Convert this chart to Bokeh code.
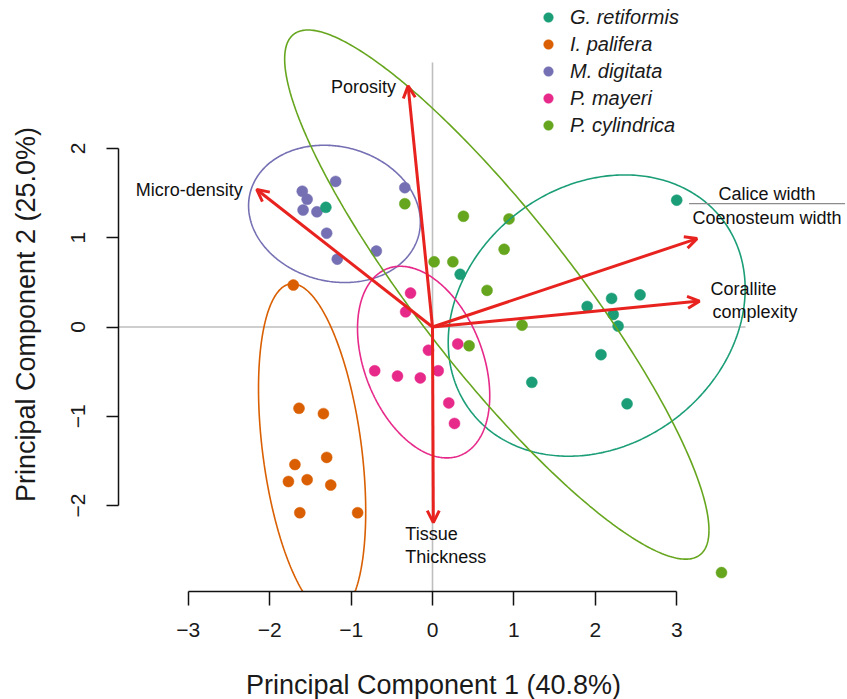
import numpy as np
from bokeh.plotting import figure
from bokeh.models import (ColumnDataSource, Range1d, Arrow, OpenHead, Legend,
                          LegendItem, FixedTicker, Label)
from bokeh.core.properties import value
from bokeh.embed import file_html
from bokeh.resources import INLINE

FONT = "Liberation Sans"

# ---------------- data ----------------
species = ["G. retiformis", "I. palifera", "M. digitata", "P. mayeri", "P. cylindrica"]
colors = ["#1B9E77", "#D95F02", "#7570B3", "#E7298A", "#66A61E"]

gr_x = [3.00, 0.34, 1.90, 2.20, 2.55, 2.22, 2.28, 1.22, 2.07, 2.39]
gr_y = [1.42, 0.59, 0.23, 0.32, 0.36, 0.14, 0.01, -0.62, -0.31, -0.86]
gr_extra_x = [-1.31]          # G. retiformis sample lying among M. digitata
gr_extra_y = [1.34]

ip_x = [-1.71, -1.64, -1.34, -1.69, -1.30, -1.77, -1.54, -1.25, -1.63, -0.92]
ip_y = [0.47, -0.91, -0.97, -1.54, -1.46, -1.73, -1.71, -1.77, -2.08, -2.08]

md_x = [-1.60, -1.54, -1.59, -1.42, -1.19, -0.34, -1.30, -0.69, -1.17]
md_y = [1.52, 1.43, 1.31, 1.29, 1.63, 1.56, 1.05, 0.85, 0.76]

pm_x = [-0.27, -0.33, 0.31, -0.05, -0.71, -0.43, -0.15, 0.07, 0.20, 0.27]
pm_y = [0.38, 0.17, -0.19, -0.26, -0.49, -0.55, -0.57, -0.49, -0.85, -1.08]

pc_x = [-0.34, 0.38, 0.94, 0.88, 0.02, 0.25, 0.67, 1.10, 0.45, 3.55]
pc_y = [1.38, 1.24, 1.21, 0.87, 0.73, 0.73, 0.41, 0.02, -0.21, -2.75]

group_x = [gr_x, ip_x, md_x, pm_x, pc_x]
group_y = [gr_y, ip_y, md_y, pm_y, pc_y]

variables = ["Porosity", "Micro-density", "Calice width / Coenosteum width",
             "Corallite complexity", "Tissue Thickness"]
load_x = [-0.30, -2.16, 3.25, 3.28, 0.01]
load_y = [2.70, 1.54, 0.99, 0.29, -2.19]

x_ticks = [-3, -2, -1, 0, 1, 2, 3]
y_ticks = [-2, -1, 0, 1, 2]
x_title = "Principal Component 1 (40.8%)"
y_title = "Principal Component 2 (25.0%)"

# ---------------- layout ----------------
W, H = 847, 699
X0, X1 = -5.307, 5.098          # whole canvas in data units
Y0, Y1 = -4.171, 3.656
USR_X = (-3.857, 3.845)         # R plot region (axes sit on its edges)
USR_Y = (-2.962, 2.962)
px_x = W / (X1 - X0)
px_y = H / (Y1 - Y0)

p = figure(width=W, height=H, x_range=Range1d(X0, X1), y_range=Range1d(Y0, Y1),
           output_backend="svg", toolbar_location=None,
           min_border_left=0, min_border_right=0, min_border_top=0,
           min_border_bottom=0)
p.xgrid.visible = False
p.ygrid.visible = False
p.outline_line_color = None
p.background_fill_color = "white"
p.border_fill_color = "white"

for ax, ticks in ((p.xaxis[0], x_ticks), (p.yaxis[0], y_ticks)):
    ax.ticker = FixedTicker(ticks=ticks)
    ax.bounds = (ticks[0], ticks[-1])
    ax.major_label_overrides = {t: (str(t).replace("-", "\u2212")) for t in ticks}
    ax.minor_tick_line_color = None
    ax.major_tick_in = 0
    ax.axis_line_width = 1.5
    ax.major_tick_line_width = 1.5
    ax.axis_line_color = "#111111"
    ax.major_tick_line_color = "#111111"
    ax.major_label_text_font = FONT
    ax.major_label_text_font_size = "21px"
    ax.major_label_text_color = "#1a1a1a"

xa, ya = p.xaxis[0], p.yaxis[0]
xa.fixed_location = USR_Y[0]
xa.major_tick_out = 14
xa.major_label_standoff = 17
ya.fixed_location = USR_X[0]
ya.major_tick_out = 12
ya.major_label_orientation = "parallel"
ya.major_label_standoff = 22

# axis titles
p.add_layout(Label(x=433, y=H - 684, x_units="screen", y_units="screen", text=x_title,
                   text_align="center", text_baseline="middle",
                   text_font=FONT, text_font_size="27px", text_color="#1a1a1a"))
p.add_layout(Label(x=25, y=H - 314, x_units="screen", y_units="screen", text=y_title,
                   angle=np.pi / 2, text_align="center", text_baseline="middle",
                   text_font=FONT, text_font_size="27px", text_color="#1a1a1a"))

# reference lines at 0 inside the plot region
p.segment(x0=[USR_X[0], 0], y0=[0, USR_Y[0]], x1=[USR_X[1], 0], y1=[0, USR_Y[1]],
          line_color="#BEBEBE", line_width=1.6)

# points
renderers = []
for gx, gy, col in zip(group_x, group_y, colors):
    r = p.scatter(gx, gy, size=11, fill_color=col, line_color=col, line_width=0.5)
    renderers.append(r)
p.scatter(gr_extra_x, gr_extra_y, size=11, fill_color=colors[0], line_color=colors[0],
          line_width=0.5)

# 95% normal data ellipses (cut at the bottom axis, as in the original)
R95 = np.sqrt(5.991)
t = np.linspace(0, 2 * np.pi, 400)
for gx, gy, col in zip(group_x, group_y, colors):
    x = np.array(gx); y = np.array(gy)
    c = np.cov(x, y)
    sx, sy = np.sqrt(c[0, 0]), np.sqrt(c[1, 1])
    rho = c[0, 1] / (sx * sy)
    ex = x.mean() + R95 * sx * np.cos(t)
    ey = y.mean() + R95 * sy * (rho * np.cos(t) + np.sqrt(1 - rho ** 2) * np.sin(t))
    below = ey < USR_Y[0]
    if below.any():
        ey = np.clip(ey, USR_Y[0], None)
        # roll so that the gap under the axis is at the ends of the line
        k = int(np.argmax(below))
        idx = np.roll(np.arange(len(t)), -k)
        ex, ey, below = ex[idx], ey[idx], below[idx]
        keep = ~below
        first, last = np.argmax(keep), len(keep) - 1 - np.argmax(keep[::-1])
        ex, ey = ex[first - 1:last + 2], ey[first - 1:last + 2]
    p.line(ex, ey, line_color=col, line_width=1.6)

# loading arrows
RED = "#E8231F"
asrc = ColumnDataSource(dict(x0=[0] * len(load_x), y0=[0] * len(load_y),
                             x1=load_x, y1=load_y))
p.add_layout(Arrow(source=asrc, x_start="x0", y_start="y0", x_end="x1", y_end="y1",
                   line_color=RED, line_width=3,
                   end=OpenHead(size=12, line_color=RED, line_width=3)))

# arrow labels (anchored at tips, offset in pixels)
lab_specs = [
    (0, "Porosity", -12, 1, "right"),
    (1, "Micro-density", -14, 1, "right"),
    (2, "Calice width", 70, -45, "center"),
    (2, "Coenosteum width", 70, -21, "center"),
    (3, "Corallite", 11, -12, "left"),
    (3, "complexity", 13, 11, "left"),
    (4, "Tissue", -28, 11, "left"),
    (4, "Thickness", -28, 34, "left"),
]
for align in ("left", "right", "center"):
    rows = [s for s in lab_specs if s[4] == align]
    src = ColumnDataSource(dict(x=[load_x[s[0]] for s in rows],
                                y=[load_y[s[0]] for s in rows],
                                txt=[s[1] for s in rows],
                                dx=[s[2] for s in rows],
                                dy=[s[3] for s in rows]))
    p.text(x="x", y="y", text="txt", x_offset="dx", y_offset="dy", source=src,
           text_align=align, text_baseline="middle", text_font=value(FONT),
           text_font_size="18px", text_color="#111111")

# fraction bar of the ratio label
tip_x, tip_y = load_x[2], load_y[2]
p.segment(x0=[tip_x - 8 / px_x], y0=[tip_y + 35 / px_y],
          x1=[tip_x + 148 / px_x], y1=[tip_y + 35 / px_y],
          line_color="#8c8c8c", line_width=1.3)

# legend (location in pixels from the canvas bottom-left)
legend = Legend(items=[LegendItem(label=s, renderers=[r]) for s, r in zip(species, renderers)],
                location=(536, H - 137), orientation="vertical",
                padding=0, margin=0, spacing=3, glyph_width=24, glyph_height=24,
                label_height=24, label_standoff=10,
                label_text_font=FONT, label_text_font_size="20px",
                label_text_font_style="italic", label_text_color="#1a1a1a",
                border_line_color=None, background_fill_alpha=0)
p.add_layout(legend, "center")

open("out.html", "w").write(file_html(p, INLINE))
